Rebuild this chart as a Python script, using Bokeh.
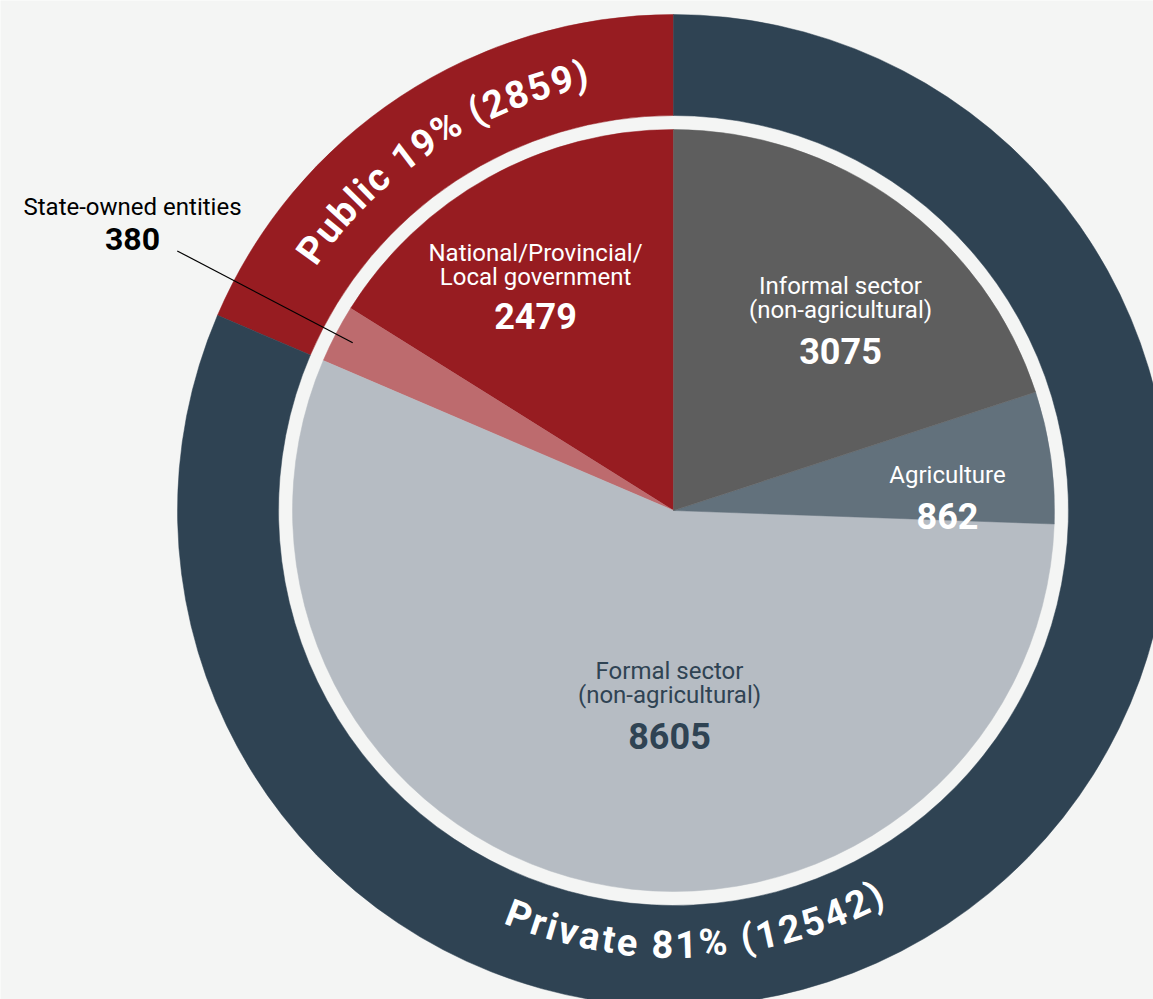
import math
import numpy as np
from bokeh.plotting import figure
from bokeh.models import Range1d, ColumnDataSource
from bokeh.core.properties import value
from bokeh.embed import file_html
from bokeh.resources import INLINE

# ---------------- data ----------------
outer_names = ["Public", "Private"]
outer_values = [2859, 12542]
outer_colors = ["#971c21", "#2f4353"]

inner_names = ["National/Provincial/\nLocal government", "State-owned entities",
               "Formal sector\n(non-agricultural)", "Agriculture",
               "Informal sector\n(non-agricultural)"]
inner_values = [2479, 380, 8605, 862, 3075]
inner_colors = ["#971c21", "#bd6b6e", "#b6bcc3", "#62717c", "#5e5e5e"]

# ---------------- layout / style ----------------
BG = "#f4f5f4"
FONT = "Roboto"
W, H = 1153, 999
CX, CY = 673, 999 - 510          # page coords -> data coords (y flipped)
R_OUT, R_RING_IN, R_PIE = 496, 395, 381


def to_y(page_y):
    return 999 - page_y


def angles(vals):
    vals = np.asarray(vals, dtype=float)
    frac = np.concatenate([[0.0], np.cumsum(vals)]) / vals.sum()
    start = math.pi / 2 + 2 * math.pi * frac[:-1]
    end = math.pi / 2 + 2 * math.pi * frac[1:]
    return start, end


p = figure(width=W, height=H, x_range=Range1d(0, W), y_range=Range1d(0, H),
           output_backend="svg", toolbar_location=None,
           x_axis_location=None, y_axis_location=None, min_border=0,
           background_fill_color=BG, border_fill_color=BG, outline_line_color=None)
p.grid.visible = False

# outer ring
os_, oe_ = angles(outer_values)
outer_src = ColumnDataSource(dict(name=outer_names, value=outer_values, start=os_, end=oe_,
                                  color=outer_colors))
p.annular_wedge(x=CX, y=CY, inner_radius=R_RING_IN, outer_radius=R_OUT,
                start_angle="start", end_angle="end", direction="anticlock",
                fill_color="color", line_color="color", line_width=0.5, source=outer_src)

# inner pie
is_, ie_ = angles(inner_values)
inner_src = ColumnDataSource(dict(name=inner_names, value=inner_values, start=is_, end=ie_,
                                  color=inner_colors))
p.wedge(x=CX, y=CY, radius=R_PIE, start_angle="start", end_angle="end",
        direction="anticlock", fill_color="color", line_color="color", line_width=0.5,
        source=inner_src)

# leader line for State-owned entities (along the slice's mid-angle)
mid_state = (is_[1] + ie_[1]) / 2
p.segment(x0=[CX + 362 * math.cos(mid_state)], y0=[CY + 362 * math.sin(mid_state)],
          x1=[CX + 560 * math.cos(mid_state)], y1=[CY + 560 * math.sin(mid_state)],
          line_color="black", line_width=1.2)

# ---------------- slice labels ----------------
# (index into inner arrays, centre x, baselines of label lines, baseline of number, colour, number size)
label_specs = [
    (0, 535, [252, 276], 315, "white", 36),
    (4, 840, [285, 309], 350, "white", 36),
    (3, 947, [474], 515, "white", 36),
    (2, 669, [670, 694], 735, "#2f4353", 36),
    (1, 132, [206], 238, "black", 32),
]
tx, ty, tt, tc = [], [], [], []
nx, ny, nt, nc, ns = [], [], [], [], []
for idx, x, lines_y, num_y, col, nsize in label_specs:
    for line, yy in zip(inner_names[idx].split("\n"), lines_y):
        tx.append(x); ty.append(to_y(yy)); tt.append(line); tc.append(col)
    nx.append(x); ny.append(to_y(num_y)); nt.append(str(inner_values[idx])); nc.append(col)
    ns.append(f"{nsize}px")

p.text(x=tx, y=ty, text=tt, text_color=tc, text_font=value(FONT), text_font_size="24px",
       text_align="center", text_baseline="alphabetic")
p.text(x=nx, y=ny, text=nt, text_color=nc, text_font=value(FONT), text_font_size=ns,
       text_font_style="bold", text_align="center", text_baseline="alphabetic")

# ---------------- curved ring labels ----------------
EM = {" ": .248, "P": .635, "u": .553, "b": .561, "l": .256, "i": .256, "c": .523,
      "%": .72, "(": .345, ")": .348, "r": .355, "v": .493, "a": .536, "t": .333,
      "e": .526}


def arc_chars(s, mid, r, clockwise, size, track):
    widths = [EM.get(ch, .5615) * size for ch in s]
    total = sum(widths) + track * (len(s) - 1)
    xs, ys, rots = [], [], []
    acc = 0.0
    for w in widths:
        off = (acc + w / 2 - total / 2) / r
        if clockwise:
            th = mid - off
            rot = th - math.pi / 2
        else:
            th = mid + off
            rot = th + math.pi / 2
        xs.append(CX + r * math.cos(th)); ys.append(CY + r * math.sin(th)); rots.append(rot)
        acc += w + track
    return xs, ys, rots


total_outer = sum(outer_values)
outer_labels = [f"{n} {round(100 * v / total_outer)}% ({v})" for n, v in zip(outer_names, outer_values)]

RING_MID = (R_OUT + R_RING_IN) / 2
mid_public = (os_[0] + oe_[0]) / 2
cx_, cy_, cr_ = arc_chars(outer_labels[0], mid_public, RING_MID, True, 38, 2.5)
dx_, dy_, dr_ = arc_chars(outer_labels[1], math.radians(273), RING_MID - 12, False, 38, 2.5)
chars = list(outer_labels[0]) + list(outer_labels[1])
p.text(x=cx_ + dx_, y=cy_ + dy_, angle=cr_ + dr_, text=chars, text_color="white",
       text_font=value(FONT), text_font_size="38px", text_font_style="bold",
       text_align="center", text_baseline="middle")

html = file_html(p, INLINE)
html = html.replace("<body>", f'<body style="background-color:{BG};">', 1)
open("out.html", "w").write(html)
